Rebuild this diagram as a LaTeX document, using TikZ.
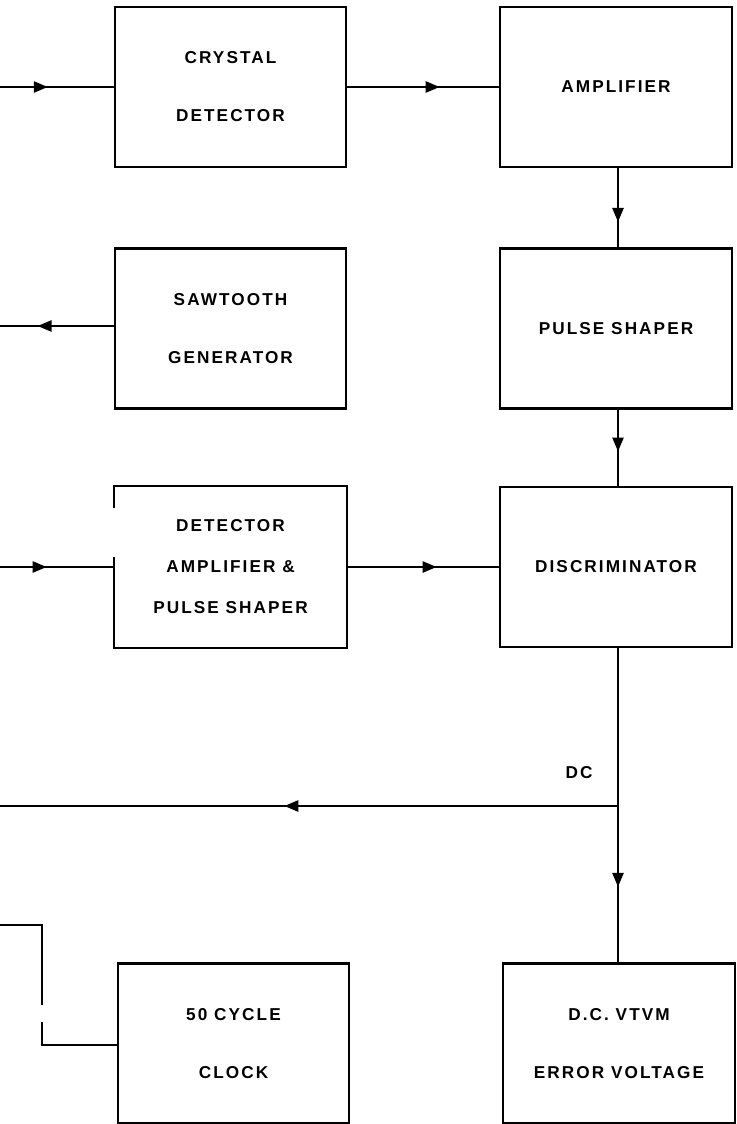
\documentclass[tikz,border=0pt]{standalone}
\usepackage{fontspec}
\setmainfont{Liberation Sans}
\newfontfamily\blockfam[LetterSpace=12]{Liberation Sans}
\usetikzlibrary{arrows.meta,decorations.markings}
\newcommand{\blockfont}{\blockfam\bfseries\fontsize{8.6}{29}\selectfont}
\tikzset{
  block/.style={draw, line width=1.2pt, minimum width=115.5pt, minimum height=80pt,
    align=center, inner sep=0pt, font=\blockfont},
  rblock/.style={block, minimum width=116pt},
  wire/.style={line width=1.2pt},
  midarrow/.style={wire, postaction={decorate},
    decoration={markings, mark=at position #1 with {\arrow{Triangle[length=7pt,width=5.5pt]}}}},
  sidelabel/.style={font=\blockfont, inner sep=1pt}
}

\begin{document}
\begin{tikzpicture}[x=0.5pt,y=-0.5pt]
  \useasboundingbox (0,0) rectangle (736,1124);

  \node[block] (crystal) at (230.5,87) {CRYSTAL\\DETECTOR};
  \node[rblock] (amp) at (616,87) {AMPLIFIER};
  \node[block] (saw) at (230.5,328.5) {SAWTOOTH\\GENERATOR};
  \node[rblock] (shaper) at (616,328.5) {PULSE SHAPER};
  \node[block, draw=none, font=\blockfam\bfseries\fontsize{8.6}{20.5}\selectfont] (detamp) at (230.5,567)
    {DETECTOR\\AMPLIFIER \&\\PULSE SHAPER};
  \node[rblock] (disc) at (616,567) {DISCRIMINATOR};
  \node[block] (clock) at (233.5,1043.5) {50 CYCLE\\CLOCK};
  \node[rblock] (vtvm) at (619,1043.5) {D.C. VTVM\\ERROR VOLTAGE};

  % outline of the detector box, left side broken
  \draw[wire] (detamp.west |- 0,508) -- (detamp.north west) -- (detamp.north east)
    -- (detamp.south east) -- (detamp.south west) -- (detamp.west |- 0,557);

  \coordinate (xin) at (0,87);
  \coordinate (sawout) at (0,326);
  \coordinate (detin) at (0,567);
  \coordinate (dcjoin) at (618,806);
  \coordinate (dcout) at (0,806);
  \coordinate (clkin) at (0,925);
  \coordinate (clkbend) at (42,925);
  \coordinate (clkgapa) at (42,1005);
  \coordinate (clkgapb) at (42,1022);
  \coordinate (clkfoot) at (42,1045);

  \draw[midarrow=0.42] (xin) -- (crystal.west |- xin);
  \draw[midarrow=0.61] (crystal.east |- xin) -- (amp.west |- xin);
  \draw[midarrow=0.68] (amp.south -| dcjoin) -- (shaper.north -| dcjoin);
  \draw[midarrow=0.55] (shaper.south -| dcjoin) -- (disc.north -| dcjoin);
  \draw[midarrow=0.67] (saw.west |- sawout) -- (sawout);
  \draw[midarrow=0.41] (detin) -- (detamp.west);
  \draw[midarrow=0.59] (detamp.east) -- (disc.west);
  \draw[midarrow=0.76] (disc.south -| dcjoin) -- (vtvm.north -| dcjoin);
  \draw[midarrow=0.54] (dcjoin) -- (dcout);
  \node[sidelabel] (dc) at (579,773) {DC};

  \draw[wire] (clkin) -- (clkbend) -- (clkgapa);
  \draw[wire] (clkgapb) -- (clkfoot) -- (clock.west |- clkfoot);
\end{tikzpicture}
\end{document}
